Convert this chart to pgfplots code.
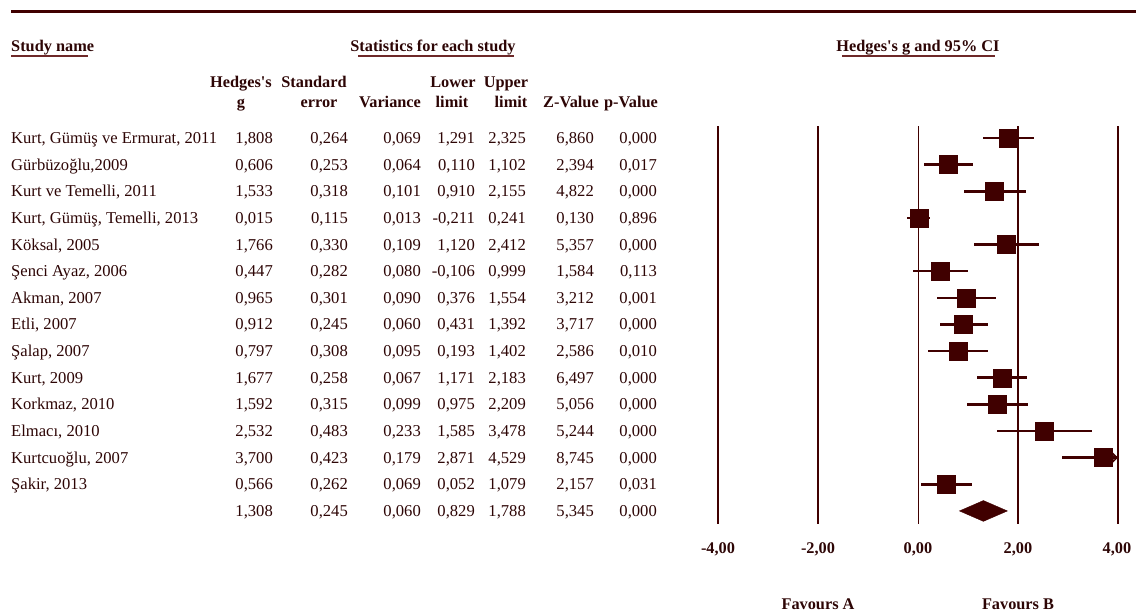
\documentclass[border=0pt]{standalone}
\usepackage{pgfplots}
\pgfplotsset{compat=1.18}
\usepackage{pgfplotstable}
\usetikzlibrary{arrows.meta}
\usepackage{fontspec}
\setmainfont{Liberation Serif}
\definecolor{mar}{RGB}{64,0,0}
\definecolor{txt}{RGB}{45,5,5}
\definecolor{ul}{RGB}{110,40,40}

\pgfplotstableread{
row g lo hi
1 1.808 1.291 2.325
2 0.606 0.110 1.102
3 1.533 0.910 2.155
4 0.015 -0.211 0.241
5 1.766 1.120 2.412
6 0.447 -0.106 0.999
7 0.965 0.376 1.554
8 0.912 0.431 1.392
9 0.797 0.193 1.402
10 1.677 1.171 2.183
11 1.592 0.975 2.209
12 2.532 1.585 3.478
13 3.700 2.871 4.529
14 0.566 0.052 1.079
}\studies

\newcommand{\studyrow}[9]{%
  \node[tx, anchor=base west] at (11,{#1+5.5}) {#2};
  \node[tx, anchor=base east] at (273,{#1+5.5}) {#3};
  \node[tx, anchor=base east] at (348,{#1+5.5}) {#4};
  \node[tx, anchor=base east] at (421,{#1+5.5}) {#5};
  \node[tx, anchor=base east] at (475,{#1+5.5}) {#6};
  \node[tx, anchor=base east] at (526,{#1+5.5}) {#7};
  \node[tx, anchor=base east] at (594,{#1+5.5}) {#8};
  \node[tx, anchor=base east] at (657,{#1+5.5}) {#9};
}

\begin{document}
\begin{tikzpicture}[
  every node/.style={text=txt, inner sep=0pt},
  tx/.style={font=\fontsize{16.6}{19}\selectfont},
  bx/.style={font=\fontsize{16.3}{19}\selectfont\bfseries}]
\path[use as bounding box] (0,0) rectangle (1136pt,-612pt);
\begin{axis}[at={(718pt,-126pt)}, anchor=north west, scale only axis,
  width=400pt, height=398pt, xmin=-4, xmax=4, ymin=0.55, ymax=15.49,
  y dir=reverse, hide axis, clip=false]
\addplot[mar, line width=1.7pt] coordinates {(-4,0.55) (-4,15.49)};
\addplot[mar, line width=1.7pt] coordinates {(-2,0.55) (-2,15.49)};
\addplot[mar, line width=1pt] coordinates {(0,0.55) (0,15.49)};
\addplot[mar, line width=1.7pt] coordinates {(2,0.55) (2,15.49)};
\addplot[mar, line width=1.7pt] coordinates {(4,0.55) (4,15.49)};
\addplot[mar, only marks, mark=square*, mark size=9pt, mark options={mar, fill=mar},
  error bars/.cd, x dir=both, x explicit, error mark=none,
  error bar style={line width=2.6pt, mar}]
  table[x=g, y=row,
   x error plus expr={min(\thisrow{hi},4)-\thisrow{g}},
   x error minus expr={\thisrow{g}-\thisrow{lo}}] {\studies};
\addplot[mar, line width=1pt, -{Stealth[open, length=6pt, width=12pt]}]
  coordinates {(3.85,13) (4.0,13)};
\addplot[mar, fill=mar] coordinates {(0.829,15) (1.308,14.61) (1.788,15) (1.308,15.39)} -- cycle;
\end{axis}

\begin{scope}[x=1pt, y=-1pt]
\draw[mar, line width=3pt] (11,12) -- (1136,12);
% headers
\node[bx, anchor=base west] at (11,52) {Study name};
\draw[ul, line width=1.2pt] (11,56) -- (88,56);
\node[bx, anchor=base] at (433,52) {Statistics for each study};
\draw[ul, line width=1.2pt] (358,56) -- (514,56);
\node[bx, anchor=base] at (918,52) {Hedges\textquotesingle s g and 95\% CI};
\draw[ul, line width=1.2pt] (842,56) -- (995,56);
\node[bx, anchor=base] at (241,88) {Hedges\textquotesingle s};
\node[bx, anchor=base] at (241,108) {g};
\node[bx, anchor=base] at (314,88) {Standard};
\node[bx, anchor=base] at (319,108) {error};
\node[bx, anchor=base] at (390,108) {Variance};
\node[bx, anchor=base] at (453,88) {Lower};
\node[bx, anchor=base] at (452,108) {limit};
\node[bx, anchor=base] at (506,88) {Upper};
\node[bx, anchor=base] at (511,108) {limit};
\node[bx, anchor=base] at (571,108) {Z-Value};
\node[bx, anchor=base] at (631,108) {p-Value};
% rows
\studyrow{138.0}{Kurt, Gümüş ve Ermurat, 2011}{1,808}{0,264}{0,069}{1,291}{2,325}{6,860}{0,000}
\studyrow{164.6}{Gürbüzoğlu,2009}{0,606}{0,253}{0,064}{0,110}{1,102}{2,394}{0,017}
\studyrow{191.3}{Kurt ve Temelli, 2011}{1,533}{0,318}{0,101}{0,910}{2,155}{4,822}{0,000}
\studyrow{217.9}{Kurt, Gümüş, Temelli, 2013}{0,015}{0,115}{0,013}{-0,211}{0,241}{0,130}{0,896}
\studyrow{244.6}{Köksal, 2005}{1,766}{0,330}{0,109}{1,120}{2,412}{5,357}{0,000}
\studyrow{271.2}{Şenci Ayaz, 2006}{0,447}{0,282}{0,080}{-0,106}{0,999}{1,584}{0,113}
\studyrow{297.8}{Akman, 2007}{0,965}{0,301}{0,090}{0,376}{1,554}{3,212}{0,001}
\studyrow{324.5}{Etli, 2007}{0,912}{0,245}{0,060}{0,431}{1,392}{3,717}{0,000}
\studyrow{351.1}{Şalap, 2007}{0,797}{0,308}{0,095}{0,193}{1,402}{2,586}{0,010}
\studyrow{377.8}{Kurt, 2009}{1,677}{0,258}{0,067}{1,171}{2,183}{6,497}{0,000}
\studyrow{404.4}{Korkmaz, 2010}{1,592}{0,315}{0,099}{0,975}{2,209}{5,056}{0,000}
\studyrow{431.0}{Elmacı, 2010}{2,532}{0,483}{0,233}{1,585}{3,478}{5,244}{0,000}
\studyrow{457.7}{Kurtcuoğlu, 2007}{3,700}{0,423}{0,179}{2,871}{4,529}{8,745}{0,000}
\studyrow{484.3}{Şakir, 2013}{0,566}{0,262}{0,069}{0,052}{1,079}{2,157}{0,031}
\studyrow{511.0}{}{1,308}{0,245}{0,060}{0,829}{1,788}{5,345}{0,000}
% axis labels
\node[bx, anchor=base] at (718,553) {-4,00};
\node[bx, anchor=base] at (818,553) {-2,00};
\node[bx, anchor=base] at (918,553) {0,00};
\node[bx, anchor=base] at (1018,553) {2,00};
\node[bx, anchor=base] at (1117,553) {4,00};
\node[bx, anchor=base] at (818,609) {Favours A};
\node[bx, anchor=base] at (1018,609) {Favours B};
\end{scope}
\end{tikzpicture}
\end{document}
